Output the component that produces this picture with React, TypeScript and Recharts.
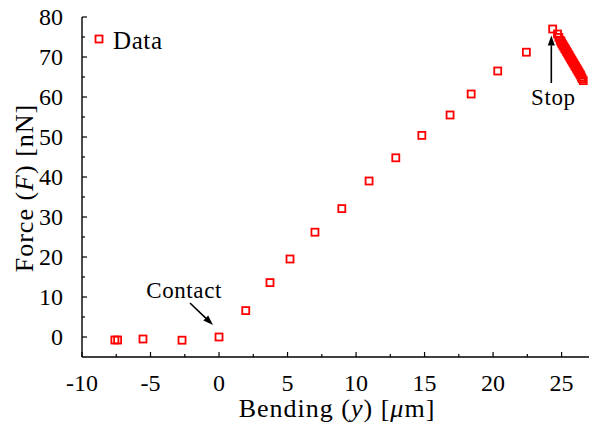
import React from "react";
import {
  ScatterChart,
  Scatter,
  XAxis,
  YAxis,
  Legend,
  ReferenceLine,
  ReferenceDot,
} from "recharts";

// approach branch: bending (µm) and force (nN)
const approachBending = [-7.6, -7.4, -5.55, -2.7, 0, 1.95, 3.72, 5.18, 7.0, 8.96, 10.95, 12.9, 14.8, 16.86, 18.4, 20.34, 22.43, 24.35];
const approachForce = [-0.75, -0.75, -0.5, -0.8, 0, 6.6, 13.6, 19.5, 26.2, 32.1, 39.0, 44.8, 50.4, 55.5, 60.75, 66.5, 71.2, 77.0];

// relaxation after stop
const relaxBending = [24.7, 24.8, 24.9, 24.95, 25.0, 25.06, 25.12, 25.18, 25.24, 25.3, 25.36, 25.42, 25.48, 25.54, 25.6, 25.66, 25.72, 25.78, 25.84, 25.9, 25.96, 26.02, 26.08, 26.14, 26.2, 26.26, 26.32, 26.38, 26.44, 26.5, 26.58];
const relaxForce = [75.75, 74.9, 74.2, 73.9, 73.5, 73.2, 72.8, 72.5, 72.1, 71.8, 71.4, 71.1, 70.7, 70.4, 70.0, 69.7, 69.3, 69.0, 68.6, 68.3, 67.9, 67.6, 67.2, 66.9, 66.5, 66.2, 65.8, 65.5, 65.0, 64.6, 64.1];

const xTicks = [-10, -7.5, -5, -2.5, 0, 2.5, 5, 7.5, 10, 12.5, 15, 17.5, 20, 22.5, 25];
const yTicks = [0, 5, 10, 15, 20, 25, 30, 35, 40, 45, 50, 55, 60, 65, 70, 75, 80];

const data = [
  ...approachBending.map((b, i) => ({ bending: b, force: approachForce[i] })),
  ...relaxBending.map((b, i) => ({ bending: b, force: relaxForce[i] })),
];

const FONT = "'Liberation Serif', 'DejaVu Serif', serif";
const RED = "#ff0000";

const BottomTick = ({ x, y, payload }: any) => {
  const major = payload.value % 5 === 0;
  return (
    <g>
      <line x1={x} x2={x} y1={y} y2={y - (major ? 5 : 3)} stroke="#000" strokeWidth={1.2} />
      {major && (
        <text x={x} y={y + 34} textAnchor="middle" fontFamily={FONT} fontSize={24} fill="#000">
          {payload.value}
        </text>
      )}
    </g>
  );
};

const TopTick = ({ x, y, payload }: any) => {
  const major = payload.value % 5 === 0;
  return <line x1={x} x2={x} y1={y} y2={y + (major ? 5 : 3)} stroke="#000" strokeWidth={1.2} />;
};

const LeftTick = ({ x, y, payload }: any) => {
  const major = payload.value % 10 === 0;
  return (
    <g>
      <line x1={x} x2={x + (major ? 5 : 3)} y1={y} y2={y} stroke="#000" strokeWidth={1.2} />
      {major && (
        <text x={x - 19} y={y + 8} textAnchor="end" fontFamily={FONT} fontSize={24} fill="#000">
          {payload.value}
        </text>
      )}
    </g>
  );
};

const RightTick = ({ x, y, payload }: any) => {
  const major = payload.value % 10 === 0;
  return <line x1={x} x2={x - (major ? 5 : 3)} y1={y} y2={y} stroke="#000" strokeWidth={1.2} />;
};

const OpenSquare = ({ cx, cy }: any) => (
  <rect x={cx - 3.5} y={cy - 3.5} width={7} height={7} fill="none" stroke={RED} strokeWidth={1.8} />
);

const Arrow = ({ x1, y1, x2, y2 }: any) => {
  const dx = x2 - x1;
  const dy = y2 - y1;
  const len = Math.sqrt(dx * dx + dy * dy) || 1;
  const ux = dx / len;
  const uy = dy / len;
  const hl = 10;
  const hw = 3.5;
  const bx = x2 - ux * hl;
  const by = y2 - uy * hl;
  return (
    <g>
      <line x1={x1} y1={y1} x2={bx} y2={by} stroke="#000" strokeWidth={1.6} />
      <polygon
        points={`${x2},${y2} ${bx - uy * hw},${by + ux * hw} ${bx + uy * hw},${by - ux * hw}`}
        fill="#000"
      />
    </g>
  );
};

const LegendContent = () => (
  <svg width={100} height={32}>
    <rect x={3.5} y={9.5} width={7} height={7} fill="none" stroke={RED} strokeWidth={1.8} />
    <text x={21} y={23} fontFamily={FONT} fontSize={25} letterSpacing={0.6} fill="#000">
      Data
    </text>
  </svg>
);

const annotationText = (label: string) => (p: any) => (
  <text
    x={p.cx}
    y={p.cy}
    textAnchor="middle"
    fontFamily={FONT}
    fontSize={23}
    letterSpacing={0.6}
    fill="#000"
  >
    {label}
  </text>
);

export default function App() {
  return (
    <div style={{ position: "absolute", left: 0, top: 0, background: "#fff" }}>
      <ScatterChart width={589} height={430} margin={{ top: 17, right: 0, bottom: 0, left: 0 }}>
        <XAxis
          dataKey="bending"
          type="number"
          domain={[-10, 27]}
          allowDataOverflow
          ticks={xTicks}
          interval={0}
          tickSize={0}
          tickMargin={0}
          tickLine={false}
          tick={<BottomTick />}
          height={73}
          axisLine={{ stroke: "#000", strokeWidth: 1.4 }}
        />
        <XAxis
          xAxisId="top"
          orientation="top"
          type="number"
          domain={[-10, 27]}
          allowDataOverflow
          ticks={xTicks}
          interval={0}
          tickSize={0}
          tickMargin={0}
          tickLine={false}
          tick={<TopTick />}
          height={0}
          axisLine={{ stroke: "#000", strokeWidth: 1.4 }}
        />
        <YAxis
          dataKey="force"
          type="number"
          domain={[-5, 80]}
          allowDataOverflow
          ticks={yTicks}
          interval={0}
          tickSize={0}
          tickMargin={0}
          tickLine={false}
          tick={<LeftTick />}
          width={82}
          axisLine={{ stroke: "#000", strokeWidth: 1.4 }}
        />
        <YAxis
          yAxisId="right"
          orientation="right"
          type="number"
          domain={[-5, 80]}
          allowDataOverflow
          ticks={yTicks}
          interval={0}
          tickSize={0}
          tickMargin={0}
          tickLine={false}
          tick={<RightTick />}
          width={0}
          axisLine={{ stroke: "#000", strokeWidth: 1.4 }}
        />
        <Legend
          layout="vertical"
          align="center"
          verticalAlign="middle"
          wrapperStyle={{ left: 92, top: 26, width: 100 }}
          content={<LegendContent />}
        />
        <Scatter data={data} name="Data" shape={<OpenSquare />} isAnimationActive={false} />
        <ReferenceLine
          segment={[
            { x: -2.12, y: 8.5 },
            { x: -0.44, y: 3 },
          ]}
          shape={(p: any) => <Arrow {...p} />}
        />
        <ReferenceLine
          segment={[
            { x: 24.25, y: 63.5 },
            { x: 24.25, y: 75.4 },
          ]}
          shape={(p: any) => <Arrow {...p} />}
        />
        <ReferenceDot x={-2.55} y={9.75} shape={annotationText("Contact")} />
        <ReferenceDot x={24.4} y={58} shape={annotationText("Stop")} />
        <text
          x={337}
          y={417}
          textAnchor="middle"
          fontFamily={FONT}
          fontSize={26}
          letterSpacing={1}
          fill="#000"
        >
          Bending (<tspan fontStyle="italic">y</tspan>) [<tspan fontStyle="italic">μ</tspan>m]
        </text>
        <text
          x={33}
          y={188}
          textAnchor="middle"
          fontFamily={FONT}
          fontSize={26}
          letterSpacing={1}
          fill="#000"
          transform="rotate(-90 33 188)"
        >
          Force (<tspan fontStyle="italic">F</tspan>) [nN]
        </text>
      </ScatterChart>
    </div>
  );
}
